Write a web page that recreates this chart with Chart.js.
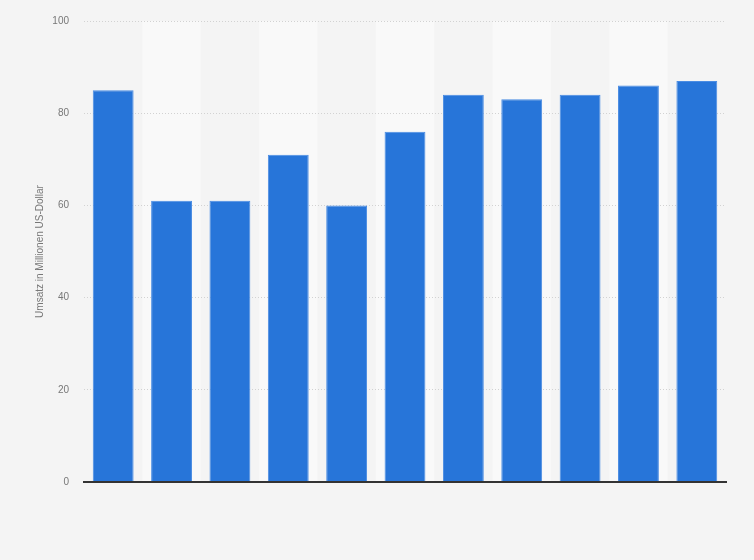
<!DOCTYPE html>
<html>
<head>
<meta charset="utf-8">
<script src="https://cdn.jsdelivr.net/npm/chart.js@4"></script>
<style>
  html, body { margin: 0; padding: 0; background: #f4f4f4; }
  #wrap { width: 754px; height: 560px; }
</style>
</head>
<body>
<div id="wrap"><canvas id="salesChart"></canvas></div>
<script>
// Values
const categories = ['1', '2', '3', '4', '5', '6', '7', '8', '9', '10', '11'];
const revenue = [85, 61, 61, 71, 60, 76, 84, 83, 84, 86, 87];
const yTicks = [0, 20, 40, 60, 80, 100];

// Alternating column backgrounds, drawn before grid and axes
const stripes = {
    id: 'stripes',
    beforeDraw(chart) {
        const ctx = chart.ctx;
        const x = chart.scales.x;
        const area = chart.chartArea;
        const step = x.getPixelForValue(1) - x.getPixelForValue(0);
        ctx.save();
        ctx.fillStyle = '#f9f9f9';
        categories.forEach((c, i) => {
            if (i % 2 === 1) {
                const cx = x.getPixelForValue(i);
                ctx.fillRect(cx - step / 2, area.top, step, area.bottom - area.top);
            }
        });
        ctx.restore();
    }
};

new Chart(document.getElementById('salesChart'), {
    type: 'bar',
    data: {
        labels: categories,
        datasets: [{
            data: revenue,
            backgroundColor: '#2775d9',
            borderColor: '#4a8ce3',
            borderWidth: { top: 1, left: 1, right: 1, bottom: 0 },
            categoryPercentage: 0.7,
            barPercentage: 1
        }]
    },
    options: {
        responsive: true,
        maintainAspectRatio: false,
        animation: false,
        layout: { padding: { left: 34, right: 28, top: 20, bottom: 78 } },
        scales: {
            x: {
                grid: { display: false },
                ticks: { display: false },
                border: { color: '#333333', width: 2, z: 1 },
                afterFit: function(scale) { scale.height = 0; }
            },
            y: {
                min: 0,
                max: 100,
                afterBuildTicks: function(scale) {
                    scale.ticks = yTicks.map(v => ({ value: v }));
                },
                grid: {
                    color: '#d2d2d2',
                    drawTicks: false
                },
                border: { display: false, dash: [1, 2] },
                ticks: {
                    color: '#777777',
                    padding: 15,
                    font: { family: 'Liberation Sans, Arial, sans-serif', size: 10 }
                },
                title: {
                    display: true,
                    text: 'Umsatz in Millionen US-Dollar',
                    color: '#777777',
                    padding: 0,
                    font: { family: 'Liberation Sans, Arial, sans-serif', size: 10 }
                },
                afterFit: function(scale) { scale.width = 50; }
            }
        },
        plugins: {
            legend: { display: false },
            tooltip: { enabled: false }
        }
    },
    plugins: [stripes]
});
</script>
</body>
</html>
